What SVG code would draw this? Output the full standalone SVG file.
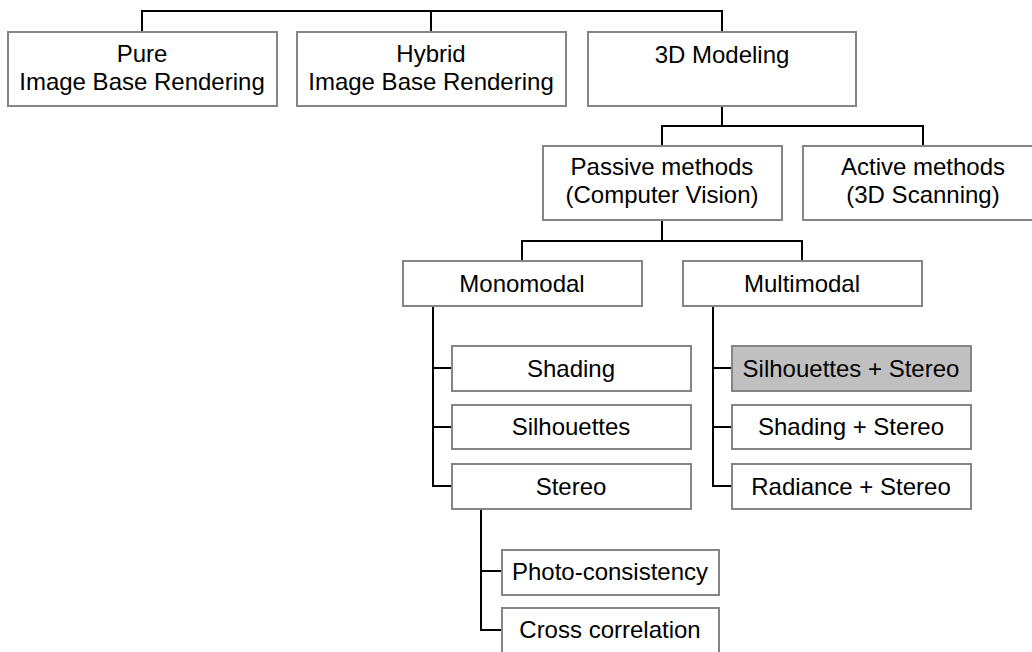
<svg xmlns="http://www.w3.org/2000/svg" width="1032" height="652" viewBox="0 0 1032 652">
<style>
.box{fill:#ffffff;stroke:#858585;stroke-width:2}
.hl{fill:#c0c0c0;stroke:#858585;stroke-width:2}
.t{font-family:"Liberation Sans",Arial,sans-serif;font-size:24px;fill:#000;text-anchor:middle}
.c{fill:none;stroke:#000;stroke-width:2}
</style>
<rect width="1032" height="652" fill="#ffffff"/>
<g id="connectors">
<path class="c" d="M142,32V11H722V32M431,11V32"/>
<path class="c" d="M722,106V126H662V146M722,126H923V146"/>
<path class="c" d="M662,220V241H522V261M662,241H802V261"/>
<path class="c" d="M433,306V486H452M433,368H452M433,427H452"/>
<path class="c" d="M713,306V486H732M713,368H732M713,427H732"/>
<path class="c" d="M481,509V630H502M481,571H502"/>
</g>
<g id="pure"><rect class="box" x="8" y="32" width="269" height="74"/><text class="t" x="142" y="62">Pure</text><text class="t" x="142" y="90">Image Base Rendering</text></g>
<g id="hybrid"><rect class="box" x="297" y="32" width="269" height="74"/><text class="t" x="431" y="62">Hybrid</text><text class="t" x="431" y="90">Image Base Rendering</text></g>
<g id="modeling"><rect class="box" x="588" y="32" width="268" height="74"/><text class="t" x="722" y="63">3D Modeling</text></g>
<g id="passive"><rect class="box" x="543" y="146" width="239" height="74"/><text class="t" x="662" y="175">Passive methods</text><text class="t" x="662" y="203">(Computer Vision)</text></g>
<g id="active"><rect class="box" x="803" y="146" width="240" height="74"/><text class="t" x="923" y="175">Active methods</text><text class="t" x="923" y="203">(3D Scanning)</text></g>
<g id="monomodal"><rect class="box" x="403" y="261" width="239" height="45"/><text class="t" x="522" y="292">Monomodal</text></g>
<g id="multimodal"><rect class="box" x="683" y="261" width="239" height="45"/><text class="t" x="802" y="292">Multimodal</text></g>
<g id="shading"><rect class="box" x="452" y="346" width="239" height="45"/><text class="t" x="571" y="377">Shading</text></g>
<g id="silhouettes"><rect class="box" x="452" y="405" width="239" height="44"/><text class="t" x="571" y="435">Silhouettes</text></g>
<g id="stereo"><rect class="box" x="452" y="464" width="239" height="45"/><text class="t" x="571" y="495">Stereo</text></g>
<g id="silhouettes-stereo"><rect class="hl" x="732" y="346" width="239" height="45"/><text class="t" x="851" y="377">Silhouettes + Stereo</text></g>
<g id="shading-stereo"><rect class="box" x="732" y="405" width="239" height="44"/><text class="t" x="851" y="435">Shading + Stereo</text></g>
<g id="radiance-stereo"><rect class="box" x="732" y="464" width="239" height="45"/><text class="t" x="851" y="495">Radiance + Stereo</text></g>
<g id="photo"><rect class="box" x="502" y="550" width="217" height="45"/><text class="t" x="610" y="580">Photo-consistency</text></g>
<g id="cross"><rect class="box" x="502" y="608" width="217" height="45"/><text class="t" x="610" y="638">Cross correlation</text></g>
</svg>
